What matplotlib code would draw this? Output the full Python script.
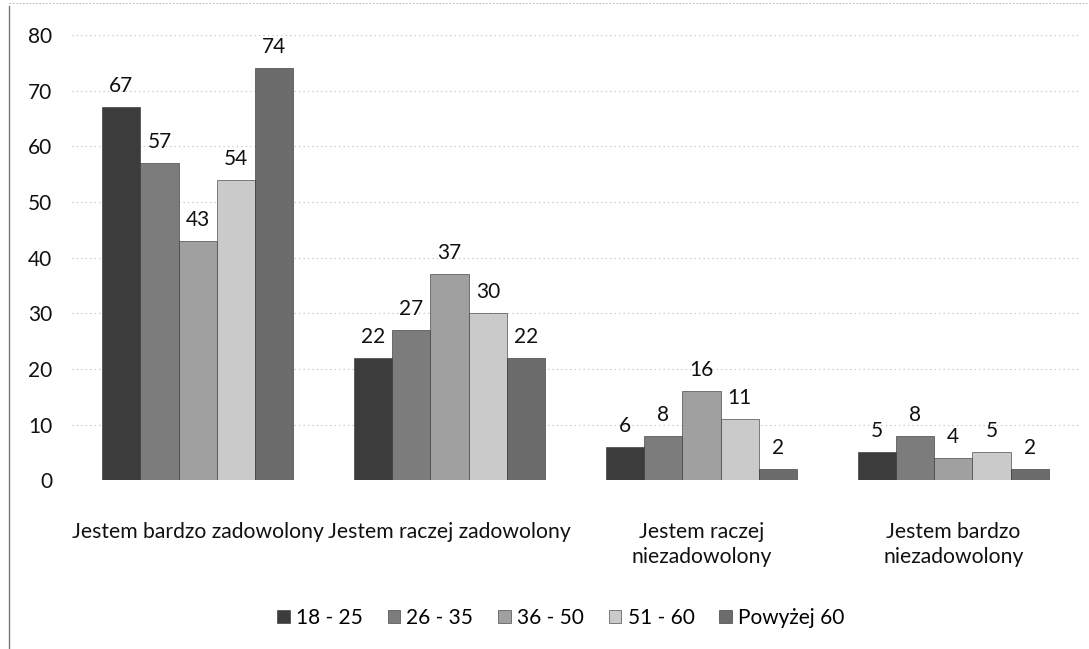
import matplotlib.pyplot as plt
import numpy as np
from matplotlib.lines import Line2D

plt.rcParams["font.family"] = ["Lato", "DejaVu Sans"]

categories = [
    "Jestem bardzo zadowolony",
    "Jestem raczej zadowolony",
    "Jestem raczej\nniezadowolony",
    "Jestem bardzo\nniezadowolony",
]
series_names = ["18 - 25", "26 - 35", "36 - 50", "51 - 60", "Powyżej 60"]
values = [
    [67, 22, 6, 5],
    [57, 27, 8, 8],
    [43, 37, 16, 4],
    [54, 30, 11, 5],
    [74, 22, 2, 2],
]
colors = ["#3c3c3c", "#7c7c7c", "#a0a0a0", "#cacaca", "#6c6c6c"]

fig = plt.figure(figsize=(10.89, 6.49), dpi=100)
ax = fig.add_axes([0.066, 0.26, 0.925, 0.686])

x = np.arange(len(categories))
width = 0.152
for i, (name, vals, col) in enumerate(zip(series_names, values, colors)):
    pos = x + (i - 2) * width
    bars = ax.bar(pos, vals, width, color=col, edgecolor="#2a2a2a", linewidth=0.4,
                  label=name, zorder=2)
    for b, v in zip(bars, vals):
        ax.text(b.get_x() + b.get_width() / 2, v + 2.0, str(v), ha="center",
                va="bottom", fontsize=15, color="#111111")

ax.set_xlim(-0.5, 3.5)
ax.set_ylim(0, 80)
ax.set_yticks(range(0, 81, 10))
ax.set_xticks(x)
ax.set_xticklabels(categories, fontsize=15.2, color="#111111", linespacing=1.3)
ax.tick_params(axis="y", labelsize=15, colors="#111111", length=0, pad=14)
ax.tick_params(axis="x", length=0, pad=30)
ax.yaxis.grid(True, color="#bdbdbd", linestyle=(0, (1, 3)), linewidth=0.8, zorder=0)
for s in ax.spines.values():
    s.set_visible(False)
ax.axhline(0, color="#bdbdbd", linestyle=(0, (1, 3)), linewidth=0.8, zorder=1)

fig.legend(loc="center", bbox_to_anchor=(0.515, 0.048), ncol=5, frameon=False,
           fontsize=15, handlelength=0.6, handleheight=0.6, handletextpad=0.3,
           columnspacing=1.2)

# chart border remnants
fig.add_artist(Line2D([0.008, 0.008], [0.0, 0.99], color="#777777", lw=1.0))
fig.add_artist(Line2D([0.008, 1.0], [0.995, 0.995], color="#aaaaaa", lw=0.6,
                      linestyle=(0, (2, 2))))

fig.savefig("out.png", dpi=100)
